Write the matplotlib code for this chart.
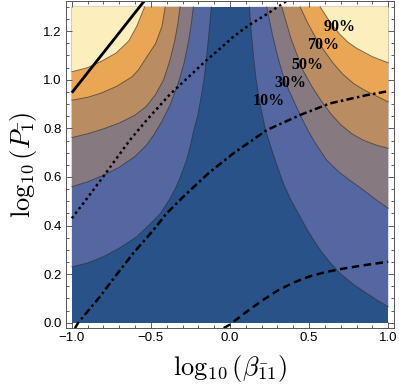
import numpy as np
import matplotlib
matplotlib.use("Agg")
from matplotlib import pyplot as plt

plt.rcParams["mathtext.fontset"] = "cm"

#%% data (log10 beta, log10 P)

x_range = [-1.0, 1.0]
y_range = [0.0, 1.3]

levels = ["10%", "30%", "50%", "70%", "90%"]
band_colors = ["#285288", "#5567a0", "#867a80", "#b98c62", "#e9a654", "#fdeebe"]

# left branches, from the left edge up to the top edge
left_x = [
    [-1.0, -0.9, -0.80, -0.7, -0.59, -0.515, -0.44, -0.385, -0.34, -0.305, -0.275, -0.25,
     -0.23, -0.205, -0.185, -0.165, -0.147, -0.132, -0.118],
    [-1.0, -0.9, -0.8, -0.7, -0.6, -0.53, -0.48, -0.43, -0.38, -0.33, -0.29, -0.262,
     -0.245, -0.232],
    [-1.0, -0.9, -0.8, -0.7, -0.6, -0.53, -0.47, -0.42, -0.38, -0.35, -0.33, -0.316],
    [-1.0, -0.9, -0.82, -0.72, -0.62, -0.58, -0.54, -0.47, -0.43, -0.41],
    [-1.0, -0.9, -0.82, -0.72, -0.64, -0.59, -0.54],
]
left_y = [
    [0.23, 0.246, 0.272, 0.307, 0.354, 0.40, 0.45, 0.505, 0.56, 0.615, 0.67, 0.73,
     0.79, 0.85, 0.92, 1.0, 1.1, 1.2, 1.30],
    [0.56, 0.58, 0.607, 0.64, 0.685, 0.73, 0.775, 0.83, 0.895, 0.98, 1.07, 1.16,
     1.23, 1.30],
    [0.762, 0.778, 0.798, 0.822, 0.855, 0.89, 0.94, 1.0, 1.08, 1.16, 1.23, 1.30],
    [0.916, 0.928, 0.944, 0.972, 1.012, 1.04, 1.08, 1.15, 1.22, 1.30],
    [1.033, 1.05, 1.074, 1.11, 1.16, 1.22, 1.30],
]

# right branches, from the top edge down to the right edge
right_x = [
    [0.122, 0.134, 0.148, 0.165, 0.19, 0.222, 0.25, 0.29, 0.337, 0.385, 0.443, 0.50,
     0.57, 0.63, 0.696, 0.78, 0.865, 0.93, 1.0],
    [0.232, 0.27, 0.30, 0.33, 0.37, 0.42, 0.47, 0.527, 0.61, 0.69, 0.76, 0.844, 0.92, 1.0],
    [0.327, 0.385, 0.46, 0.52, 0.58, 0.64, 0.70, 0.77, 0.84, 0.92, 1.0],
    [0.443, 0.49, 0.54, 0.595, 0.65, 0.71, 0.78, 0.85, 0.92, 1.0],
    [0.57, 0.63, 0.69, 0.745, 0.80, 0.90, 1.0],
]
right_y = [
    [1.30, 1.2, 1.1, 1.0, 0.9, 0.8, 0.74, 0.66, 0.574, 0.505, 0.436, 0.37,
     0.299, 0.25, 0.203, 0.158, 0.121, 0.093, 0.066],
    [1.30, 1.18, 1.10, 1.03, 0.96, 0.889, 0.82, 0.752, 0.67, 0.62, 0.585, 0.546, 0.508, 0.471],
    [1.30, 1.17, 1.04, 0.97, 0.91, 0.858, 0.815, 0.778, 0.752, 0.732, 0.718],
    [1.30, 1.235, 1.175, 1.12, 1.07, 1.025, 0.985, 0.957, 0.935, 0.909],
    [1.30, 1.24, 1.19, 1.155, 1.13, 1.095, 1.07],
]

label_x = [0.243, 0.380, 0.489, 0.591, 0.696]
label_y = [0.912, 0.985, 1.060, 1.143, 1.218]

solid_x = [-1.0, -0.54]
solid_y = [0.947, 1.326]

dotted_x = [-1.0, -0.9, -0.802, -0.633, -0.527, -0.38, -0.26, -0.148, -0.06, 0.021,
            0.12, 0.232, 0.36]
dotted_y = [0.43, 0.515, 0.601, 0.752, 0.834, 0.94, 1.013, 1.081, 1.13, 1.177,
            1.225, 1.27, 1.325]

dashdot_x = [-0.98, -0.96, -0.823, -0.728, -0.612, -0.485, -0.401, -0.295, -0.137,
             0.021, 0.232, 0.443, 0.633, 0.865, 1.0]
dashdot_y = [-0.022, 0.0, 0.107, 0.189, 0.286, 0.381, 0.450, 0.519, 0.615,
             0.697, 0.793, 0.855, 0.903, 0.937, 0.953]

dashed_x = [-0.04, 0.0, 0.1, 0.2, 0.3, 0.4, 0.5, 0.6, 0.7, 0.8, 0.9, 1.0]
dashed_y = [-0.022, -0.007, 0.043, 0.090, 0.132, 0.165, 0.19, 0.208, 0.221, 0.232,
            0.242, 0.251]

#%%

fig = plt.figure(figsize=(3.99, 3.92), dpi=100)
ax = fig.add_axes([0.165, 0.163, 0.823, 0.834])

x0, x1 = x_range
y0, y1 = y_range
ax.fill([x0, x1, x1, x0], [y0, y0, y1, y1], color=band_colors[0], lw=0)

for i in range(len(levels)):
    lx, ly = left_x[i], left_y[i]
    ax.fill(lx + [x0], ly + [y1], color=band_colors[i + 1], lw=0)
    ax.plot(lx, ly, color="#2b2b2b", lw=0.7, alpha=0.6)
    rx, ry = right_x[i], right_y[i]
    ax.fill(rx + [x1], ry + [y1], color=band_colors[i + 1], lw=0)
    ax.plot(rx, ry, color="#2b2b2b", lw=0.7, alpha=0.6)

for lab, tx, ty in zip(levels, label_x, label_y):
    ax.text(tx, ty, lab, ha="center", va="center", fontsize=11.5,
            family="Liberation Serif", fontweight="bold", color="black")

ax.plot(solid_x, solid_y, color="black", lw=2.0, solid_capstyle="butt")
ax.plot(dotted_x, dotted_y, color="black", lw=1.8, linestyle=(0, (1.0, 1.3)))
ax.plot(dashdot_x, dashdot_y, color="black", lw=1.8, linestyle=(0, (3.0, 1.3, 1.0, 1.3)))
ax.plot(dashed_x, dashed_y, color="black", lw=1.8, linestyle=(0, (3.0, 1.8)))

ax.set_xlim(-1.038, 1.038)
ax.set_ylim(-0.022, 1.3235)
ax.set_xticks([-1.0, -0.5, 0.0, 0.5, 1.0])
ax.set_xticks(np.arange(-1.0, 1.01, 0.1), minor=True)
ax.set_yticks([0.0, 0.2, 0.4, 0.6, 0.8, 1.0, 1.2])
ax.set_yticks(np.arange(0.0, 1.31, 0.05), minor=True)
ax.set_xticklabels(["\u22121.0", "\u22120.5", "0.0", "0.5", "1.0"])
ax.set_yticklabels(["0.0", "0.2", "0.4", "0.6", "0.8", "1.0", "1.2"])
ax.tick_params(which="both", direction="in", top=True, right=True, color="#444444",
               width=0.6, labelsize=9.5, pad=3)
ax.tick_params(which="major", length=4.5)
ax.tick_params(which="minor", length=2.5)
for lab in ax.get_xticklabels() + ax.get_yticklabels():
    lab.set_family("Liberation Sans")
for sp in ax.spines.values():
    sp.set_color("#555555")
    sp.set_linewidth(0.7)

ax.set_xlabel(r"$\log_{10}(\beta_{\bar{1}1})$", fontsize=19, labelpad=6)
ax.set_ylabel(r"$\log_{10}(P_{\bar{1}})$", fontsize=19, labelpad=3)

fig.savefig("out.png", dpi=100)
